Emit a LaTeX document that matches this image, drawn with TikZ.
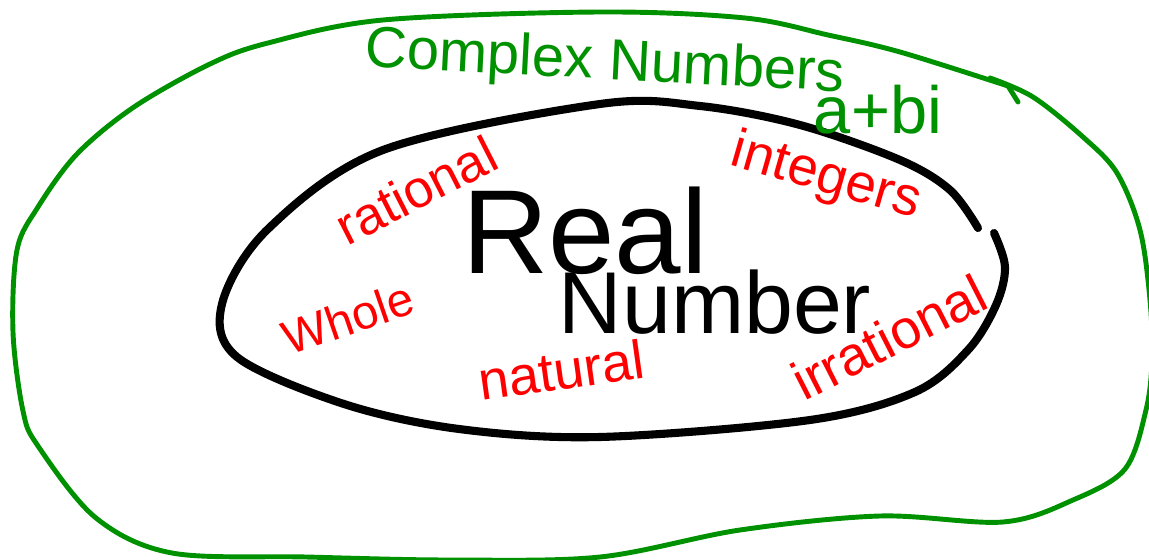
\documentclass[tikz,border=0pt]{standalone}
\usepackage{fontspec}
\setmainfont{Liberation Sans}
\usetikzlibrary{positioning}
\definecolor{setgreen}{RGB}{0,145,0}
\definecolor{setred}{RGB}{255,0,0}
\tikzset{
  outerset/.style={draw=setgreen, line width=2.8pt, line cap=round, line join=round},
  innerset/.style={draw=black, line width=4.6pt, line cap=round, line join=round},
  settitle/.style={text=setgreen, inner sep=0pt},
  bigtitle/.style={text=black, inner sep=0pt},
  member/.style={text=setred, inner sep=0pt, font=\fontsize{31}{31}\selectfont}
}

\begin{document}
\begin{tikzpicture}[x=0.02cm, y=-0.02cm]
  \useasboundingbox (0,0) rectangle (1149,560);
  \fill[white] (0,0) rectangle (1149,560);
  % complex numbers
  \draw[outerset] plot[smooth, tension=0.55] coordinates {
    (990,78) (1033,97) (1083,137) (1117,173) (1140,230) (1150,300)
    (1152,360) (1146,410) (1125,469) (1073,500) (1003,522) (880,516)
    (740,530) (600,557) (450,560) (306,557) (172,553) (96,518) (38,446)
    (23,411) (13,332) (17,250) (38,207) (77,154) (134,107) (210,64)
    (268,43) (383,20) (600,12) (745,18) (828,35) (900,52) (1008,86)};
  \draw[outerset] (1008,86) -- (1018,102);
  % real numbers
  \draw[innerset] plot[smooth, tension=0.55] coordinates {
    (994,233) (1005,267) (996,305) (968,350) (915,392) (810,420)
    (600,437) (459,429) (344,404) (237,357) (222,304) (268,229)
    (383,150) (600,104) (700,106) (800,125) (900,160) (950,190) (978,228)};
  \node[settitle, rotate=-3, font=\fontsize{33}{33}\selectfont] (complex) at (605,64) {Complex Numbers};
  \node[settitle, font=\fontsize{38}{38}\selectfont] (abi) at (878,110) {a+bi};
  \node[bigtitle, font=\fontsize{68}{68}\selectfont] (real) at (585,231) {Real};
  \node[bigtitle, font=\fontsize{50}{50}\selectfont] (number) at (715,302) {Number};
  \node[member, rotate=27, font=\fontsize{30}{30}\selectfont] (rational) at (416,190) {rational};
  \node[member, rotate=-16] (integers) at (826,178) {integers};
  \node[member, rotate=19, font=\fontsize{27}{27}\selectfont] (whole) at (348,318) {Whole};
  \node[member, rotate=8] (natural) at (561,370) {natural};
  \node[member, rotate=27] (irrational) at (889,337) {irrational};
\end{tikzpicture}
\end{document}
